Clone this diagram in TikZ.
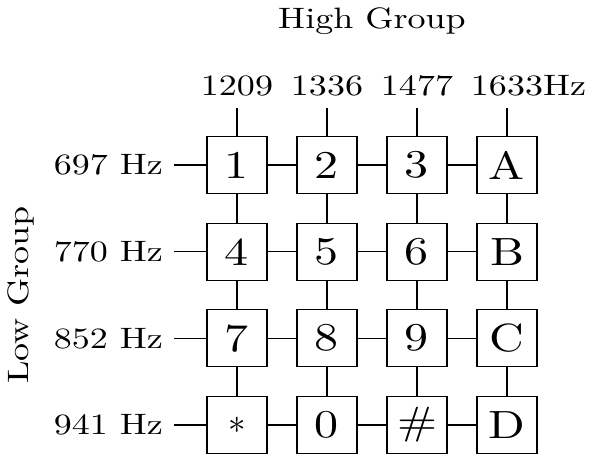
\documentclass[tikz,border=0pt]{standalone}
\usepackage{fontspec}
\setmainfont{lmroman10-regular.otf}[FakeStretch=1.22]
\usepackage{tikz}
\usetikzlibrary{
  positioning
}
\tikzset{
  keybox/.style={
    draw, line width=0.8pt,
    minimum width=1.5cm,
    minimum height=1.43cm,
    font=\fontsize{28}{32}\selectfont
  },
  freq/.style={font=\fontsize{21}{25}\selectfont, inner sep=0.28cm},
  wire/.style={line width=0.8pt, black}
}

\begin{document}
\begin{tikzpicture}[
  x=1cm, y=1cm,
  grouplbl/.style={font=\fontsize{21}{25}\selectfont},
]
\useasboundingbox (-5.925,4.125) rectangle (8.825,-7.225);

% Teclas
\node[keybox] (k1) at (0, 0) {1};
\node[keybox] (k2) at (2.25, 0) {2};
\node[keybox] (k3) at (4.5, 0) {3};
\node[keybox] (kA) at (6.75, 0) {A};
\node[keybox] (k4) at (0, -2.167) {4};
\node[keybox] (k5) at (2.25, -2.167) {5};
\node[keybox] (k6) at (4.5, -2.167) {6};
\node[keybox] (kB) at (6.75, -2.167) {B};
\node[keybox] (k7) at (0, -4.333) {7};
\node[keybox] (k8) at (2.25, -4.333) {8};
\node[keybox] (k9) at (4.5, -4.333) {9};
\node[keybox] (kC) at (6.75, -4.333) {C};
\node[keybox] (kS) at (0, -6.5) {$\ast$};
\node[keybox] (k0) at (2.25, -6.5) {0};
\node[keybox] (kH) at (4.5, -6.5) {\#};
\node[keybox] (kD) at (6.75, -6.5) {D};

% Frecuencias (arriba y laterales)
\node[freq, above=0.7cm of k1] (c1209) {1209};
\node[freq, above=0.7cm of k2] (c1336) {1336};
\node[freq, above=0.7cm of k3] (c1477) {1477};
\node[freq, above=0.7cm of kA] (c1633) {1633\rlap{Hz}};

\node[freq, left=0.8cm of k1] (r697) {697 Hz};
\node[freq, left=0.8cm of k4] (r770) {770 Hz};
\node[freq, left=0.8cm of k7] (r852) {852 Hz};
\node[freq, left=0.8cm of kS] (r941) {941 Hz};

\node[grouplbl, anchor=base] (high) at (3.375, 3.4) {High Group};
\node[grouplbl, rotate=90] (low) at (-5.4, -3.25) {Low Group};

% Conexiones
\draw[wire] (r697) -- (k1) -- (k2) -- (k3) -- (kA);
\draw[wire] (r770) -- (k4) -- (k5) -- (k6) -- (kB);
\draw[wire] (r852) -- (k7) -- (k8) -- (k9) -- (kC);
\draw[wire] (r941) -- (kS) -- (k0) -- (kH) -- (kD);

\draw[wire] (c1209) -- (k1) -- (k4) -- (k7) -- (kS);
\draw[wire] (c1336) -- (k2) -- (k5) -- (k8) -- (k0);
\draw[wire] (c1477) -- (k3) -- (k6) -- (k9) -- (kH);
\draw[wire] (c1633) -- (kA) -- (kB) -- (kC) -- (kD);

\end{tikzpicture}
\end{document}
